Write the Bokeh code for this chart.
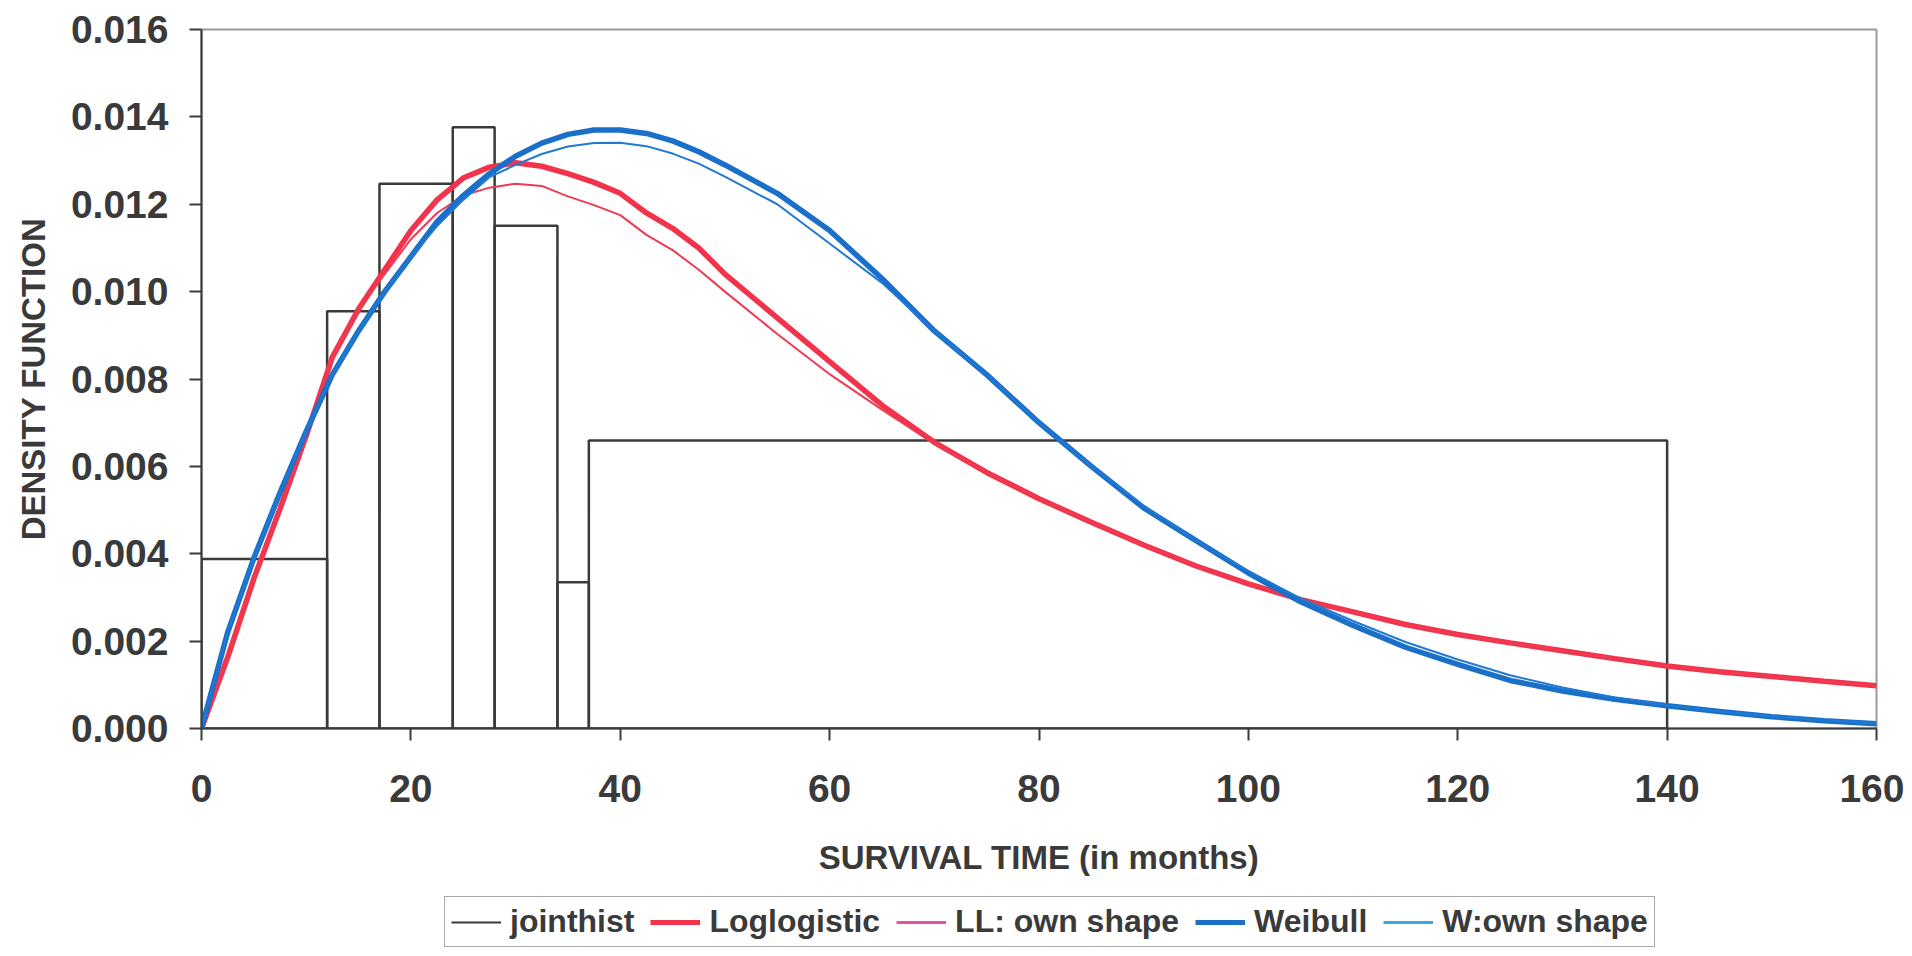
import math
from bokeh.plotting import figure
from bokeh.layouts import column
from bokeh.models import Range1d, FixedTicker, NumeralTickFormatter, Legend, LegendItem
from bokeh.embed import file_html
from bokeh.resources import INLINE

# ---------------- data ----------------
months = [0, 2.5, 5, 7.5, 10, 12.5, 15, 17.5, 20, 22.5, 25, 27.5, 30, 32.5, 35, 37.5,
          40, 42.5, 45, 47.5, 50, 55, 60, 65, 70, 75, 80, 85, 90, 95, 100, 105, 110,
          115, 120, 125, 130, 135, 140, 145, 150, 155, 160]

loglogistic = [0, 0.00163, 0.00343, 0.00503, 0.0067, 0.0085, 0.0096, 0.0105, 0.0114, 0.0121,
               0.0126, 0.01285, 0.01295, 0.01287, 0.0127, 0.0125, 0.01225, 0.0118, 0.01145,
               0.0110, 0.0104, 0.0094, 0.0084, 0.0074, 0.00655, 0.00586, 0.00526, 0.00472,
               0.0042, 0.00372, 0.00331, 0.00295, 0.00267, 0.00238, 0.00215, 0.00196,
               0.00178, 0.0016, 0.00143, 0.0013, 0.00119, 0.00108, 0.00098]

ll_own_shape = [0, 0.00163, 0.00343, 0.00503, 0.0067, 0.0085, 0.0096, 0.0104, 0.0112, 0.0118,
                0.0122, 0.01238, 0.01247, 0.01242, 0.01218, 0.01198, 0.01175, 0.0113, 0.01095,
                0.0105, 0.0100, 0.00903, 0.00811, 0.0073, 0.00652, 0.00586, 0.00526, 0.00472,
                0.0042, 0.00372, 0.00331, 0.00295, 0.00267, 0.00238, 0.00215, 0.00196,
                0.00178, 0.0016, 0.00143, 0.0013, 0.00119, 0.00108, 0.00098]

weibull = [0, 0.0022, 0.0039, 0.0054, 0.0068, 0.0081, 0.0091, 0.0100, 0.0108, 0.0116,
           0.0122, 0.0127, 0.0131, 0.0134, 0.0136, 0.0137, 0.0137, 0.01362, 0.01345,
           0.0132, 0.0129, 0.01225, 0.0114, 0.0103, 0.0091, 0.0081, 0.0070, 0.0060,
           0.00505, 0.0043, 0.00356, 0.0029, 0.00236, 0.00186, 0.00147, 0.0011,
           0.00086, 0.00067, 0.00052, 0.00039, 0.00027, 0.00018, 0.00011]

w_own_shape = [0, 0.0022, 0.0039, 0.0054, 0.0068, 0.0081, 0.0091, 0.0100, 0.0108, 0.0115,
               0.0121, 0.01262, 0.0129, 0.01315, 0.01332, 0.0134, 0.01341, 0.01333, 0.01316,
               0.01293, 0.01263, 0.0120, 0.0111, 0.0102, 0.0091, 0.0081, 0.0070, 0.0060,
               0.0051, 0.0043, 0.0036, 0.00298, 0.00246, 0.00198, 0.00158, 0.00122,
               0.00094, 0.00071, 0.00053, 0.00039, 0.00028, 0.00019, 0.00012]

hist_left = [0, 12, 17, 24, 28, 34, 37]
hist_right = [12, 17, 24, 28, 34, 37, 140]
hist_height = [0.00388, 0.00955, 0.01247, 0.01376, 0.01151, 0.00335, 0.00659]

x_ticks = [0, 20, 40, 60, 80, 100, 120, 140, 160]
y_ticks = [0, 0.002, 0.004, 0.006, 0.008, 0.010, 0.012, 0.014, 0.016]

series_names = ["jointhist", "Loglogistic", "LL: own shape", "Weibull", "W:own shape"]
x_title = "SURVIVAL TIME (in months)"
y_title = "DENSITY FUNCTION"

# ---------------- styles ----------------
FONT = "Liberation Sans"
TXT = "#3a3a3a"
RED = "#f2334b"
RED_THIN = "#f03a52"
PINK = "#ec4fa0"
BLUE = "#1a6fc9"
BLUE_THIN = "#2079d2"
LIGHT_BLUE = "#3aa9e6"

W = 1904
H_MAIN = 888
H_LEG = 60

p = figure(width=W, height=H_MAIN,
           x_range=Range1d(0, 160), y_range=Range1d(0, 0.016),
           output_backend="svg", toolbar_location=None,
           min_border_left=201, min_border_right=28,
           min_border_top=29, min_border_bottom=H_MAIN - 728)

p.xgrid.visible = False
p.ygrid.visible = False
p.outline_line_color = "#9a9a9a"
p.outline_line_width = 2
p.background_fill_color = "white"
p.border_fill_color = "white"

for ax in (p.xaxis[0], p.yaxis[0]):
    ax.minor_tick_line_color = None
    ax.major_tick_out = 12
    ax.major_tick_in = 0
    ax.major_tick_line_width = 2
    ax.major_tick_line_color = TXT
    ax.axis_line_width = 2
    ax.axis_line_color = TXT
    ax.major_label_text_font = FONT
    ax.major_label_text_font_style = "bold"
    ax.major_label_text_font_size = "39px"
    ax.major_label_text_color = TXT
    ax.axis_label_text_font = FONT
    ax.axis_label_text_font_style = "bold"
    ax.axis_label_text_font_size = "33px"
    ax.axis_label_text_color = TXT

p.xaxis.ticker = FixedTicker(ticks=x_ticks)
p.yaxis.ticker = FixedTicker(ticks=y_ticks)
p.yaxis.formatter = NumeralTickFormatter(format="0.000")
p.xaxis.axis_label = x_title
p.yaxis.axis_label = y_title
p.xaxis.major_label_standoff = 34
p.yaxis.major_label_standoff = 21
p.xaxis.axis_label_standoff = 34
p.yaxis.axis_label_standoff = 16

# histogram
p.quad(left=hist_left, right=hist_right, bottom=0, top=hist_height,
       fill_color=None, line_color=TXT, line_width=2.5)

p.line(months, loglogistic, line_color=RED, line_width=5.5)
p.line(months, ll_own_shape, line_color=RED_THIN, line_width=2)
p.line(months, weibull, line_color=BLUE, line_width=5.5)
p.line(months, w_own_shape, line_color=BLUE_THIN, line_width=2)

# ---------------- legend strip ----------------
pl = figure(width=W, height=H_LEG, x_range=Range1d(0, 1), y_range=Range1d(0, 1),
            output_backend="svg", toolbar_location=None,
            x_axis_location=None, y_axis_location=None,
            min_border_left=0, min_border_right=0, min_border_top=0, min_border_bottom=0)
pl.xgrid.visible = False
pl.ygrid.visible = False
pl.outline_line_color = None
pl.background_fill_color = "white"
pl.border_fill_color = "white"

nan = [math.nan]
k_hist = pl.line(nan, nan, line_color=TXT, line_width=2)
k_ll = pl.line(nan, nan, line_color=RED, line_width=5)
k_llo = pl.line(nan, nan, line_color=PINK, line_width=3)
k_w = pl.line(nan, nan, line_color=BLUE, line_width=5)
k_wo = pl.line(nan, nan, line_color=LIGHT_BLUE, line_width=3)

# the column aligns this strip's frame with the main frame (left edge at 201px)
legend = Legend(items=[LegendItem(label=n, renderers=[r]) for n, r in
                       zip(series_names, [k_hist, k_ll, k_llo, k_w, k_wo])],
                orientation="horizontal", location=(243, 1),
                glyph_width=50, glyph_height=20, label_standoff=9, spacing=16,
                padding=6, margin=0,
                border_line_color="#555555", border_line_width=1.5,
                background_fill_color="white", background_fill_alpha=1,
                label_text_font=FONT, label_text_font_style="bold",
                label_text_font_size="32px", label_text_color=TXT)
pl.add_layout(legend, "center")

layout = column(p, pl, spacing=0)
open("out.html", "w").write(file_html(layout, INLINE))
